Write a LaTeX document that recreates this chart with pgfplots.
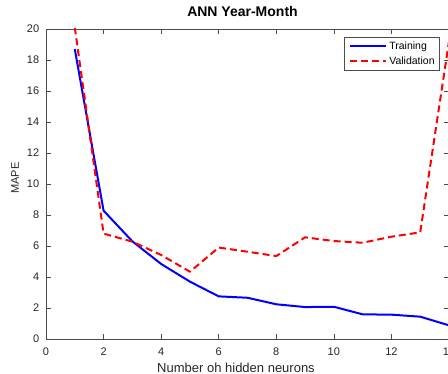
\documentclass[border=0pt]{standalone}
\usepackage{pgfplots}
\pgfplotsset{compat=1.18}
\usepackage{fontspec}
\setmainfont{Liberation Sans}

\begin{document}
\begin{tikzpicture}
\begin{axis}[
  at={(0pt,0pt)}, anchor=south west,
  scale only axis, width=403pt, height=310pt,
  xmin=0, xmax=14, ymin=0, ymax=20,
  xtick={0,2,...,14}, ytick={0,2,...,20},
  tick align=inside, major tick length=5pt,
  axis line style={draw=black!70, line width=0.7pt},
  tick style={draw=black!70, line width=0.7pt},
  ticklabel style={font=\fontsize{11}{13}\selectfont, text=black!85},
  /pgf/number format/assume math mode=true,
  xticklabel style={yshift=-5pt},
  yticklabel style={xshift=-3.3pt},
  title={ANN Year-Month},
  title style={at={(axis description cs:0.4876,1.0203)}, anchor=base, font=\bfseries\fontsize{14}{16}\selectfont},
  xlabel={Number oh hidden neurons},
  xlabel style={at={(axis description cs:0.4715,-0.1087)}, anchor=base, font=\fontsize{13}{15}\selectfont, text=black!85},
  ylabel={MAPE},
  ylabel style={at={(axis description cs:-0.067,0.519)}, anchor=base, font=\fontsize{11}{13}\selectfont, text=black!85},
  legend style={at={(axis description cs:1,1)}, anchor=north east, xshift=-9.7pt, yshift=-7.7pt,
    draw=black!70, line width=0.5pt, font=\fontsize{10.5}{12}\selectfont,
    inner xsep=4.4pt, inner ysep=1.75pt, row sep=0pt, column sep=2.7pt,
    nodes={inner xsep=0pt, inner ysep=2.85pt, text height=8pt, text depth=1pt},
    cells={anchor=west}},
  legend cell align=left,
  legend image code/.code={\draw[#1] (0pt,0pt) -- (36pt,0pt);},
]
\addplot[blue, line width=2pt, line join=round] coordinates {
(1,18.7)(2,8.28)(3,6.3)(4,4.84)(5,3.7)(6,2.75)(7,2.66)(8,2.24)(9,2.06)(10,2.08)(11,1.59)(12,1.57)(13,1.44)(14,0.88)};
\addlegendentry{Training}
\addplot[red, line width=2pt, line join=round, dash pattern=on 7pt off 4pt] coordinates {
(1,20.1)(2,6.8)(3,6.28)(4,5.42)(5,4.34)(6,5.9)(7,5.63)(8,5.35)(9,6.56)(10,6.32)(11,6.21)(12,6.6)(13,6.88)(14,19.2)};
\addlegendentry{Validation\hspace{8pt}}
\end{axis}
\pgfresetboundingbox
\path[use as bounding box] (-46pt,-35pt) rectangle (402pt,339pt);
\end{tikzpicture}
\end{document}
